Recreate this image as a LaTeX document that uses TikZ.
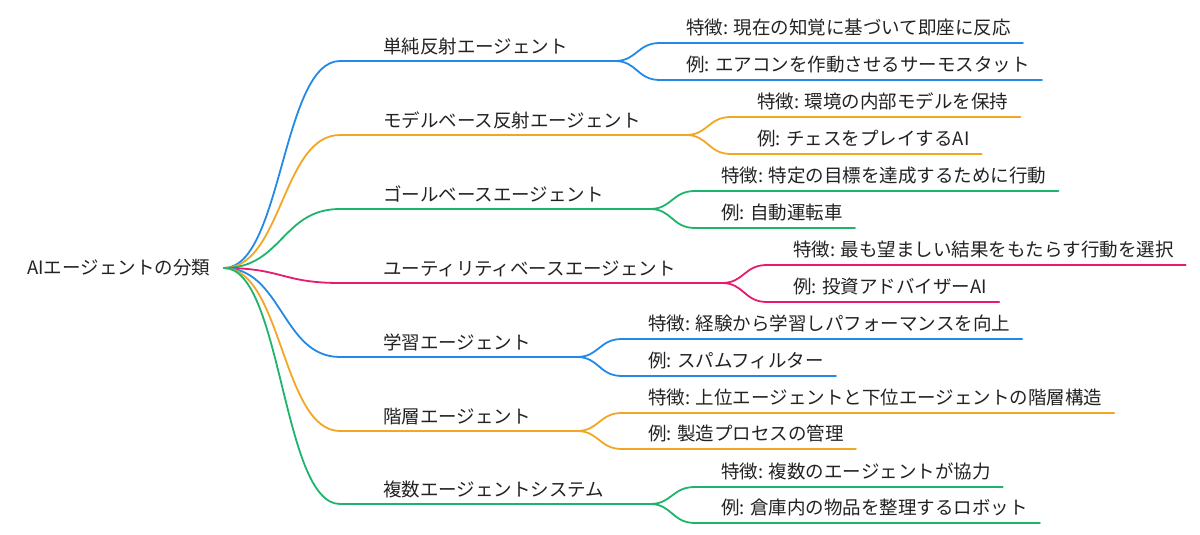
\documentclass[tikz,border=0pt]{standalone}
\usepackage{fontspec}
\setmainfont{Noto Sans CJK JP}
\definecolor{cblue}{HTML}{2389E6}
\definecolor{corange}{HTML}{F2A623}
\definecolor{cgreen}{HTML}{1FB46C}
\definecolor{cmag}{HTML}{E8196F}
\definecolor{ctext}{HTML}{222222}
\begin{document}
\begin{tikzpicture}[x=1pt,y=-1pt,
  lbl/.style={anchor=west, inner sep=0pt, font=\fontsize{18.5}{22}\selectfont,
              text height=14.8pt, text depth=1.9pt, text=ctext},
  edge/.style={line width=1.8pt, line cap=round}]
\path[use as bounding box] (0,0) rectangle (1200,535);
\node[lbl] (root) at (27,268) {AIエージェントの分類};
\coordinate (r) at (224,268);
\foreach \i/\col/\y/\bx/\t in {
  1/cblue/61/615/単純反射エージェント,
  2/corange/135/686/モデルベース反射エージェント,
  3/cgreen/209/650/ゴールベースエージェント,
  4/cmag/283/722/ユーティリティベースエージェント,
  5/cblue/357/577/学習エージェント,
  6/corange/431/577/階層エージェント,
  7/cgreen/504/650/複数エージェントシステム}{
  \coordinate (s\i) at (340,\y);
  \coordinate (b\i) at (\bx,\y);
  \node[lbl] (l\i) at (383,\y-14) {\t};
  \draw[edge,\col] (r) .. controls (282,268) and (282,\y) .. (s\i) -- (b\i);
}
\foreach \i/\col/\bx/\y/\ya/\yb/\ta/\tb in {
  1/cblue/615/61/43/80/特徴: 現在の知覚に基づいて即座に反応/例: エアコンを作動させるサーモスタット,
  2/corange/686/135/117/154/特徴: 環境の内部モデルを保持/例: チェスをプレイするAI,
  3/cgreen/650/209/191/228/特徴: 特定の目標を達成するために行動/例: 自動運転車,
  4/cmag/722/283/265/302/特徴: 最も望ましい結果をもたらす行動を選択/例: 投資アドバイザーAI,
  5/cblue/577/357/339/376/特徴: 経験から学習しパフォーマンスを向上/例: スパムフィルター,
  6/corange/577/431/413/449/特徴: 上位エージェントと下位エージェントの階層構造/例: 製造プロセスの管理,
  7/cgreen/650/504/487/523/特徴: 複数のエージェントが協力/例: 倉庫内の物品を整理するロボット}{
  \coordinate (ca\i) at (\bx+45,\ya);
  \coordinate (cb\i) at (\bx+45,\yb);
  \node[lbl] (ka\i) at (\bx+71,\ya-15) {\ta};
  \node[lbl] (kb\i) at (\bx+71,\yb-15) {\tb};
  \draw[edge,\col] (b\i) .. controls (\bx+22,\y) and (\bx+22,\ya) .. (ca\i) -- (ka\i.east |- ca\i) -- ++(12,0);
  \draw[edge,\col] (b\i) .. controls (\bx+22,\y) and (\bx+22,\yb) .. (cb\i) -- (kb\i.east |- cb\i) -- ++(12,0);
}
\end{tikzpicture}
\end{document}
